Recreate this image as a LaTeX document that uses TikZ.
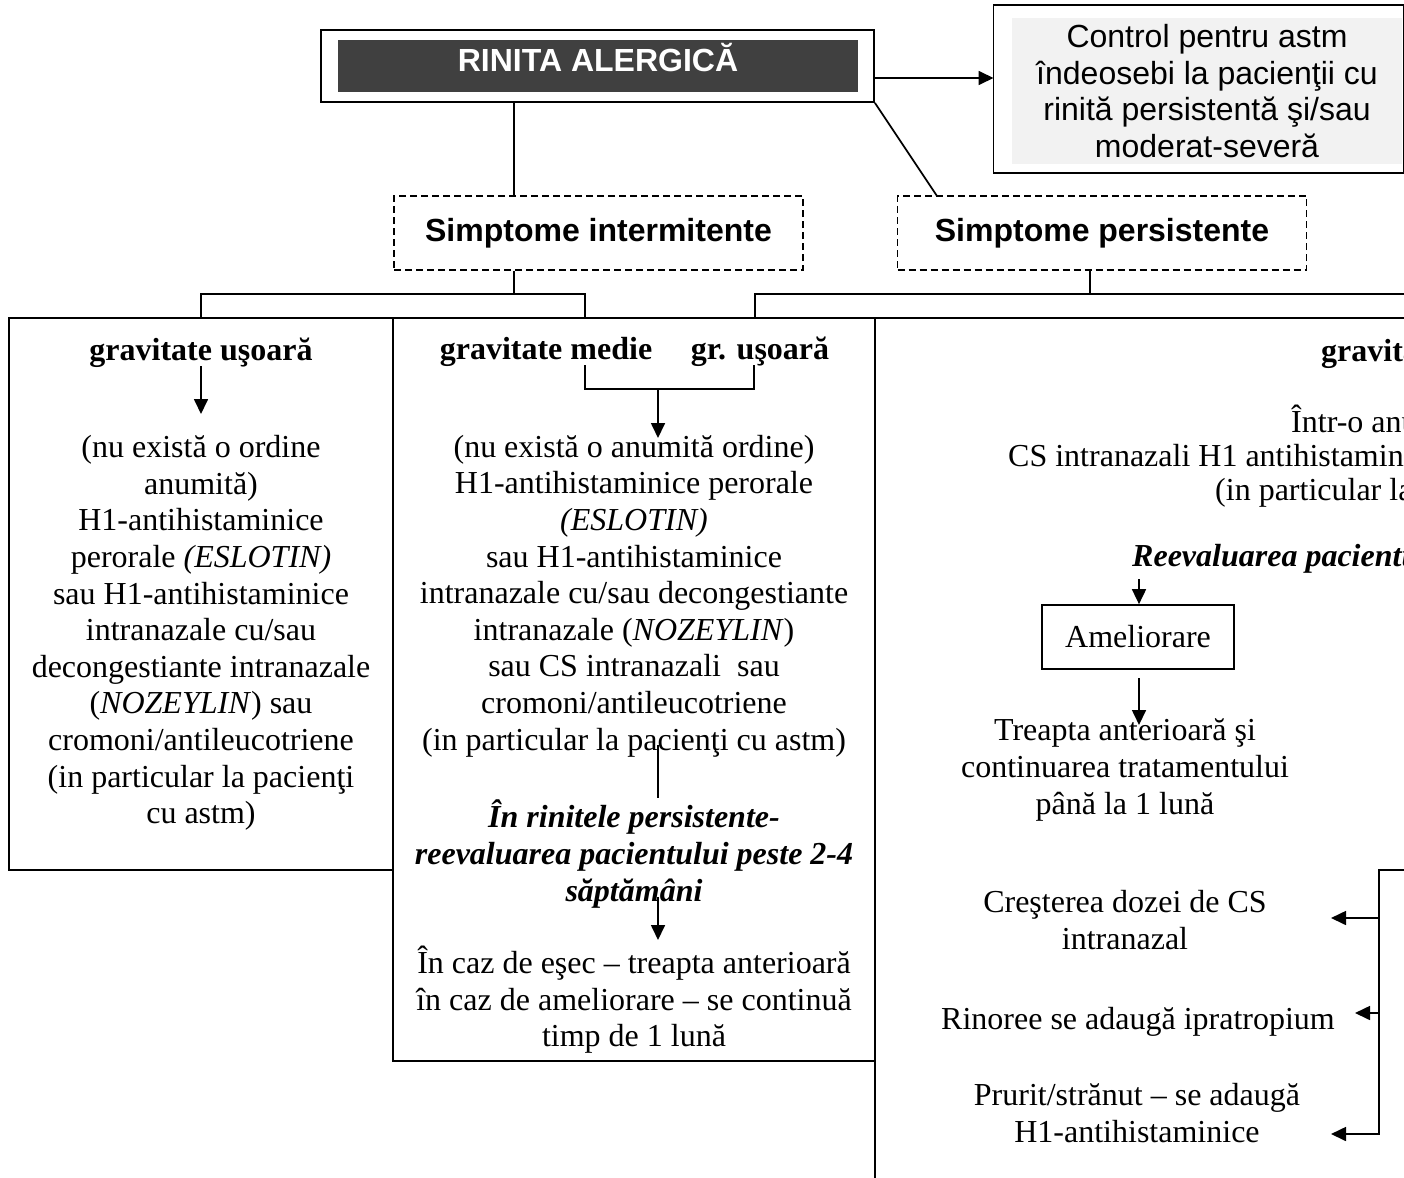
\documentclass[tikz,border=0pt]{standalone}
\usepackage{fontspec}
\setmainfont{Liberation Serif}
\newfontfamily\arialfam{Liberation Sans}
\usepackage{tikz}
\usetikzlibrary{arrows.meta, calc}
\newcommand{\bodysize}{\fontsize{32}{36.6}\selectfont}
\definecolor{titlegray}{HTML}{404040}
\definecolor{notegray}{HTML}{F2F2F2}

\begin{document}
\begin{tikzpicture}[x=1pt, y=-1pt,
                    outer_box/.style={draw, line width=1.8pt, inner sep=0pt},
                    dash_box/.style={draw, dash pattern=on 7pt off 4pt, line width=1.5pt, minimum width=409pt, minimum height=74pt, inner sep=0pt, font=\arialfam\bfseries\bodysize},
                    col_box/.style={draw, line width=1.8pt, inner sep=0pt},
                    txt/.style={font=\bodysize, align=center, inner sep=0pt},
                    txt_cut/.style={font=\bodysize, anchor=west, inner sep=0pt},
                    link/.style={line width=1.7pt},
                    arrow/.style={-{Triangle[length=15pt, width=14pt]}, line width=1.7pt}]

            \useasboundingbox (0,0) rectangle (1404,1177);
            \clip (0,0) rectangle (1404,1177);

            \node[outer_box, minimum width=553pt, minimum height=72pt] (rinita) at (597.5,66) {};
            \node[fill=titlegray, minimum width=520pt, minimum height=52pt, inner sep=0pt] (rinitaFill) at (598,66) {};
            \node[font=\arialfam\bfseries\bodysize, text=white, anchor=base, inner sep=0pt] (rinitaTxt) at (598,72) {RINITA ALERGICĂ};

            \node[outer_box, minimum width=410pt, minimum height=168pt] (ctl) at (1198.5,89) {};
            \node[fill=notegray, minimum width=390pt, minimum height=146pt, inner sep=0pt, font=\arialfam\bodysize, align=center] (ctlTxt) at (1207,91) {Control pentru astm\\îndeosebi la pacienţii cu\\rinită persistentă şi/sau\\moderat-severă};

            \node[dash_box] (interm) at (598.5,233) {Simptome intermitente};
            \node[dash_box] (persist) at (1102,233) {Simptome persistente};

            \node[col_box, minimum width=384pt, minimum height=552pt] (colA) at (201,594) {};
            \node[col_box, minimum width=482pt, minimum height=743pt] (colB) at (634,689.5) {};
            \node[col_box, minimum width=640pt, minimum height=940pt] (colC) at (1195,788) {};

            \node[txt, font=\bfseries\bodysize] (headA) at (201,353) {gravitate uşoară};
            \node[txt] (treatA) at (201,633) {(nu există o ordine\\anumită)\\H1-antihistaminice\\perorale \textit{(ESLOTIN)}\\sau H1-antihistaminice\\intranazale cu/sau\\decongestiante intranazale\\(\textit{NOZEYLIN}) sau\\cromoni/antileucotriene\\(in particular la pacienţi\\cu astm)};

            \node[txt, font=\bfseries\bodysize] (headB1) at (546,352) {gravitate medie};
            \node[txt, font=\bfseries\bodysize] (headB2) at (760,352) {gr. uşoară};
            \node[txt] (treatB) at (634,596) {(nu există o anumită ordine)\\H1-antihistaminice perorale\\\textit{(ESLOTIN)}\\sau H1-antihistaminice\\intranazale cu/sau decongestiante\\intranazale (\textit{NOZEYLIN})\\sau CS intranazali~ sau\\cromoni/antileucotriene\\(in particular la pacienţi cu astm)};
            \node[txt, font=\bfseries\itshape\bodysize] (reevalB) at (634,854) {În rinitele persistente-\\reevaluarea pacientului peste 2-4\\săptămâni};
            \node[txt] (outcomeB) at (634,1000) {În caz de eşec – treapta anterioară\\în caz de ameliorare – se continuă\\timp de 1 lună};

            \node[txt_cut, font=\bfseries\bodysize] (headC) at (1321,354) {gravita};
            \node[txt_cut] (treatC1) at (1291,419) {Într-o anu};
            \node[txt_cut] (treatC2) at (1008,456) {CS intranazali H1 antihistamini};
            \node[txt_cut] (treatC3) at (1215,493) {(in particular la};
            \node[txt_cut, font=\bfseries\itshape\bodysize] (reevalC) at (1132,559) {Reevaluarea pacientu};
            \node[draw, line width=1.7pt, minimum width=192pt, minimum height=64pt, inner sep=0pt, font=\bodysize] (ameli) at (1138,637) {Ameliorare};
            \node[txt] (stepC) at (1125,770) {Treapta anterioară şi\\continuarea tratamentului\\până la 1 lună};
            \node[txt] (doseC) at (1125,920) {Creşterea dozei de CS\\intranazal};
            \node[txt] (rhinoC) at (1138,1022) {Rinoree se adaugă ipratropium};
            \node[txt] (pruritC) at (1137,1113) {Prurit/strănut – se adaugă\\H1-antihistaminice};

            \coordinate (tapI) at (514,0);
            \coordinate (diagEnd) at (937,196);
            \coordinate (ctlIn) at (993.5,78);
            \draw[link] (tapI |- rinita.south) -- (tapI |- interm.north);
            \draw[link] (rinita.south east) -- (diagEnd);
            \draw[arrow] (rinita.east |- ctlIn) -- (ctlIn);

            \coordinate (busI) at (514,294);
            \coordinate (dropB) at (585,318);
            \draw[link] (tapI |- interm.south) -- (busI);
            \draw[link] (colA.north) |- (busI) -| (dropB);

            \coordinate (busP) at (1090,294);
            \coordinate (dropC) at (755,318);
            \coordinate (busEnd) at (1420,294);
            \draw[link] (busP |- persist.south) -- (busP);
            \draw[link] (dropC) |- (busEnd);

            \coordinate (arrA1) at (201,366);
            \coordinate (arrA2) at (201,414);
            \draw[arrow] (arrA1) -- (arrA2);

            \coordinate (brB1) at (585,365);
            \coordinate (brB2) at (754,365);
            \coordinate (brBmid) at (658,389);
            \coordinate (arrB1) at (658,438);
            \coordinate (lnB1) at (658,745);
            \coordinate (lnB2) at (658,798);
            \coordinate (arrB2) at (658,897);
            \coordinate (arrB3) at (658,940);
            \draw[link] (brB1) -- ++(0,24) -| (brB2);
            \draw[arrow] (brBmid) -- (arrB1);
            \draw[link] (lnB1) -- (lnB2);
            \draw[arrow] (arrB2) -- (arrB3);

            \coordinate (arrC1) at (1139,579);
            \coordinate (arrC2) at (1139,678);
            \coordinate (arrC3) at (1139,725);
            \draw[arrow] (arrC1) -- (arrC1 |- ameli.north);
            \draw[arrow] (arrC2) -- (arrC3);

            \coordinate (brC) at (1379,870);
            \coordinate (brCend) at (1420,870);
            \coordinate (brCbot) at (1379,1134);
            \coordinate (tipC1) at (1331,918);
            \coordinate (tipC2) at (1355,1013);
            \coordinate (tipC3) at (1331,1134);
            \draw[arrow] (brCend) -- (brC) -- (brCbot) -- (tipC3);
            \draw[arrow] (brC |- tipC1) -- (tipC1);
            \draw[arrow] (brC |- tipC2) -- (tipC2);
        \end{tikzpicture}
\end{document}
